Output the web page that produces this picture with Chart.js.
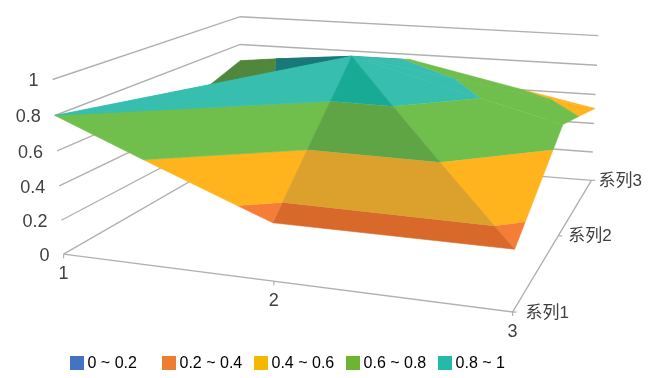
<!DOCTYPE html>
<html><head><meta charset="utf-8">
<style>html,body{margin:0;padding:0;background:#fff}#w{width:656px;height:378px;position:relative}</style>
<script src="https://cdn.jsdelivr.net/npm/chart.js@4/dist/chart.umd.min.js"></script>
</head><body><div id="w"><canvas id="c" width="656" height="378"></canvas></div>
<script>
// ---- data ----
const categories = ['1', '2', '3'];
const seriesNames = ['系列1', '系列2', '系列3'];
const series1 = [0.80, 0.327, 0.333];
const series2 = [0.485, 1.00, 0.68];
const series3 = [0.682, 0.762, 0.504];
const zTicks = [0, 0.2, 0.4, 0.6, 0.8, 1];
const zTickLabels = ['0', '0.2', '0.4', '0.6', '0.8', '1'];
const bandEdges = [0, 0.2, 0.4, 0.6, 0.8, 1];
const bandLabels = ['0 ~ 0.2   ', '0.2 ~ 0.4', '0.4 ~ 0.6', '0.6 ~ 0.8', '0.8 ~ 1'];
const legendColors = ['#4472C4', '#ED7D31', '#F4B800', '#6BB532', '#25B9AA'];
const faceColors = ['#4472C4', '#F57D37', '#FFB41E', '#70BE4B', '#37BEAF'];
const shadeColors = ['#3A62A8', '#D8692A', '#DCA02D', '#5FA546', '#19AA96'];
const backColors = ['#2F5090', '#B55E22', '#B98A28', '#50873C', '#197878'];

// ---- view: walls, floor and perspective of the 3D box ----
const catPos = [0, 0.512, 1], serPos = [0, 0.5, 1];
const G = -0.1606, H = 0.3145, VY = 4980;
const AX = [367.6, 252.5, 63], AY = [7.9, -54.2, 254];
const TA = -0.03571, TU = 0.00218, TV = -0.0003;
function project(u, v, z) {
  const w = 1 + G * u + H * v;
  const s = (TA + TU * u + TV * v) * z;
  const vx = 360 - 120 * v * (1 - u);
  return { x: (AX[0] * u + AX[1] * v + AX[2] + s * vx) / (w + s),
           y: (AY[0] * u + AY[1] * v + AY[2] + s * VY) / (w + s) };
}
const values = [series1, series2, series3];
const vert = (c, s) => ({ u: catPos[c], v: serPos[s], z: values[s][c] });
const A = vert(0,0), E = vert(1,0), B = vert(2,0), L = vert(0,1), Ct = vert(1,1),
      R = vert(2,1), D = vert(0,2), T = vert(1,2), C = vert(2,2);
// back-to-front; the last entry picks the palette
const palettes = [faceColors, shadeColors, backColors];
const faces = [[T,D,Ct,2],[D,L,Ct,2],[L,A,Ct,0],[C,T,Ct,0],[R,C,Ct,0],[A,E,Ct,0],[B,R,Ct,0],[E,B,Ct,1]];

function clipZ(poly, lim, keepAbove) {
  const out = [];
  for (let i = 0; i < poly.length; i++) {
    const p = poly[i], q = poly[(i + 1) % poly.length];
    const pin = keepAbove ? p.z >= lim : p.z <= lim;
    const qin = keepAbove ? q.z >= lim : q.z <= lim;
    if (pin) out.push(p);
    if (pin !== qin) {
      const t = (lim - p.z) / (q.z - p.z);
      out.push({ u: p.u + t * (q.u - p.u), v: p.v + t * (q.v - p.v), z: lim });
    }
  }
  return out;
}

const datasets = [];
function lineSet(pts, color, width) {
  datasets.push({ data: pts, showLine: true, fill: false, borderColor: color, borderWidth: width,
    pointRadius: 0, pointHoverRadius: 0, tension: 0, clip: false });
}
const gridColor = '#B0B0B0';
zTicks.forEach(z => {
  lineSet([project(0,0,z), project(0,1,z), project(1,1,z)], gridColor, 1.4);
});
lineSet([project(0,0,0), project(1,0,0), project(1,1,0)], gridColor, 1.4);
categories.forEach((c, i) => {
  const p = project(catPos[i], 0, 0);
  lineSet([p, { x: p.x, y: p.y + 4 }], gridColor, 1.2);
});
seriesNames.forEach((c, i) => {
  const p = project(1, serPos[i], 0);
  lineSet([p, { x: p.x + 4, y: p.y }], gridColor, 1.2);
});
faces.forEach(f => {
  const tri = f.slice(0, 3), pal = palettes[f[3]];
  bandLabels.forEach((lab, b) => {
    let poly = clipZ(tri, bandEdges[b], true);
    if (poly.length) poly = clipZ(poly, bandEdges[b + 1], false);
    if (poly.length < 3) return;
    datasets.push({ data: poly.map(p => project(p.u, p.v, p.z)), showLine: true, fill: 'shape',
      backgroundColor: pal[b], borderColor: pal[b], borderWidth: 0.6,
      pointRadius: 0, pointHoverRadius: 0, tension: 0, clip: false });
  });
});
datasets.forEach((d, i) => { d.order = -i; });

function swatch(color) {
  const s = document.createElement('canvas');
  s.width = 14; s.height = 14;
  const g = s.getContext('2d');
  g.fillStyle = color; g.fillRect(0, 0, 14, 14);
  return s;
}

const textPlugin = {
  id: 'axisText',
  afterLayout(chart) { chart.legend.left = 58.2; chart.legend.top = 340; },
  afterDraw(chart) {
    const c = chart.ctx, xs = chart.scales.x, ys = chart.scales.y;
    const px = p => ({ x: xs.getPixelForValue(p.x), y: ys.getPixelForValue(p.y) });
    c.save();
    c.fillStyle = '#404040';
    c.textBaseline = 'middle';
    c.font = '18px "Liberation Sans", Arial, sans-serif';
    c.textAlign = 'right';
    zTicks.forEach((z, i) => {
      const p = px(project(0, 0, z));
      c.fillText(zTickLabels[i], p.x - 14, p.y + 2);
    });
    c.textAlign = 'center';
    categories.forEach((t, i) => {
      const p = px(project(catPos[i], 0, 0));
      c.fillText(t, p.x, p.y + 20);
    });
    c.textAlign = 'left';
    c.font = '17px "Liberation Sans", "Noto Sans CJK SC", sans-serif';
    seriesNames.forEach((t, i) => {
      const p = px(project(1, serPos[i], 0));
      c.fillText(t, p.x + 13 - 6 * serPos[i], p.y + 1);
    });
    c.restore();
  }
};

const chart = new Chart(document.getElementById('c'), {
  type: 'scatter',
  data: { datasets },
  plugins: [textPlugin],
  options: {
    responsive: false, animation: false,
    layout: { padding: 0 },
    scales: {
      x: { type: 'linear', min: 0, max: 656, display: false },
      y: { type: 'linear', min: 0, max: 378, reverse: true, display: false }
    },
    plugins: {
      tooltip: { enabled: false },
      legend: {
        position: 'bottom', align: 'start',
        labels: {
          usePointStyle: true, pointStyleWidth: 6, boxHeight: 14, padding: 15.3, color: '#404040',
          font: { size: 16, family: '"Liberation Sans", Arial, sans-serif' },
          generateLabels: () => bandLabels.map((t, i) => ({
            text: t, pointStyle: swatch(legendColors[i]), fillStyle: legendColors[i],
            strokeStyle: legendColors[i], lineWidth: 0, hidden: false, datasetIndex: i
          }))
        }
      }
    }
  }
});
chart.options.scales.y.max = chart.chartArea.height;
chart.update('none');
</script></body></html>
